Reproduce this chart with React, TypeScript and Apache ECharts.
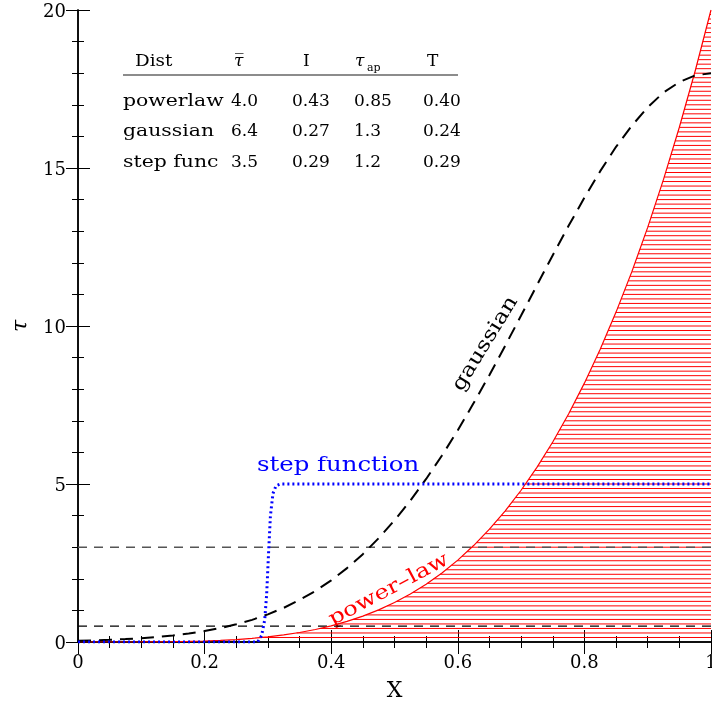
import React, { useEffect, useRef } from "react";
import * as echarts from "echarts";

// ---- data ----
const xs = [
  0, 0.025, 0.05, 0.075, 0.1, 0.125, 0.15, 0.175, 0.2, 0.225, 0.25, 0.275, 0.3, 0.325, 0.35, 0.375, 0.4, 0.425, 0.45, 0.475,
  0.5, 0.525, 0.55, 0.575, 0.6, 0.625, 0.65, 0.675, 0.7, 0.725, 0.75, 0.775, 0.8, 0.825, 0.85, 0.875, 0.9, 0.925, 0.95, 0.975, 1,
];
const powerLaw = [
  0, 0, 0, 0, 0.002, 0.005, 0.01, 0.019, 0.032, 0.051, 0.078, 0.114, 0.162, 0.223, 0.3, 0.396, 0.512, 0.652, 0.82, 1.018,
  1.25, 1.519, 1.83, 2.186, 2.592, 3.052, 3.57, 4.152, 4.802, 5.525, 6.328, 7.215, 8.192, 9.265, 10.44, 11.72, 13.12, 14.64, 16.29, 18.07, 20,
];
const gaussian = [
  0.038, 0.051, 0.069, 0.092, 0.121, 0.16, 0.208, 0.27, 0.346, 0.442, 0.559, 0.701, 0.875, 1.081, 1.33, 1.615, 1.95, 2.338, 2.78, 3.285,
  3.85, 4.47, 5.16, 5.9, 6.7, 7.56, 8.45, 9.38, 10.33, 11.29, 12.24, 13.17, 14.06, 14.9, 15.67, 16.34, 16.92, 17.39, 17.72, 17.93, 18.0,
];
const stepX = [0, 0.284, 0.29, 0.295, 0.298, 0.301, 0.304, 0.308, 0.313, 0.32, 1];
const stepY = [0, 0, 0.2, 0.7, 1.5, 2.8, 4.0, 4.7, 4.95, 5, 5];
const thresholds = [3, 0.5];

const tableHeader = ["Dist", "τ\u0305", "I", "τ", "T"];
const tableRows = [
  ["powerlaw", "4.0", "0.43", "0.85", "0.40"],
  ["gaussian", "6.4", "0.27", "1.3", "0.24"],
  ["step func", "3.5", "0.29", "1.2", "0.29"],
];

const SERIF = "'DejaVu Serif', serif";

function xAtPower(y: number): number {
  for (let i = 0; i < xs.length - 1; i++) {
    const a = powerLaw[i];
    const b = powerLaw[i + 1];
    if (b > a && y >= a && y <= b) return xs[i] + ((y - a) / (b - a)) * (xs[i + 1] - xs[i]);
  }
  return 1;
}

export default function App() {
  const ref = useRef<HTMLDivElement>(null);
  useEffect(() => {
    document.body.style.margin = "0";
    document.body.style.overflow = "hidden";
    document.documentElement.style.overflow = "hidden";
    const chart = echarts.init(ref.current!, null, { renderer: "svg", width: 712, height: 704 });

    const hatchLevels: number[][] = [];
    for (let k = 1; k * (1 / 7) < 20; k++) hatchLevels.push([1, k / 7]);

    const colX = [123, 231, 292, 354, 423];
    const headX = [135, 234, 303, 355, 427];
    const rowY = [100, 130, 161];
    const table: any[] = [];
    tableHeader.forEach((h, i) => {
      table.push({
        type: "text",
        x: headX[i],
        y: 60,
        scaleX: i === 0 ? 1.08 : 1,
        style: {
          text: h,
          font: (i === 1 || i === 3 ? "italic " : "") + "17px " + SERIF,
          fill: "#000",
          verticalAlign: "middle",
        },
      });
    });
    table.push({
      type: "text",
      x: 367,
      y: 67,
      style: { text: "ap", font: "11px " + SERIF, fill: "#000", verticalAlign: "middle" },
    });
    table.push({
      type: "line",
      shape: { x1: 123, y1: 75, x2: 458, y2: 75 },
      style: { stroke: "#666", lineWidth: 1.5 },
    });
    tableRows.forEach((row, r) => {
      row.forEach((c, i) => {
        table.push({
          type: "text",
          x: colX[i],
          y: rowY[r],
          scaleX: i === 0 ? 1.2 : 1,
          style: { text: c, font: "17px " + SERIF, fill: "#000", verticalAlign: "middle" },
        });
      });
    });

    const axisCommon = {
      min: 0,
      axisLine: { show: true, lineStyle: { color: "#000", width: 1.5 } },
      axisTick: { show: true, inside: true, length: 12, lineStyle: { color: "#000", width: 1 } },
      minorTick: { show: true, length: 6, lineStyle: { color: "#000", width: 1 } },
      splitLine: { show: false },
    };

    chart.setOption({
      animation: false,
      grid: { left: 78, top: 10, right: 1, bottom: 62, containLabel: false, outerBoundsMode: "none" },
      xAxis: [
        {
          ...axisCommon,
          type: "value",
          position: "bottom",
          max: 1,
          interval: 0.2,
          minorTick: { ...axisCommon.minorTick, splitNumber: 4 },
          axisLabel: {
            fontFamily: SERIF,
            fontSize: 18,
            color: "#000",
            margin: 10,
            formatter: (v: number) => (v === 0 ? "0" : v === 1 ? "1" : v.toFixed(1)),
          },
          name: "X",
          nameLocation: "middle",
          nameGap: 36,
          nameTextStyle: { fontFamily: SERIF, fontSize: 22, color: "#000" },
        },
        {
          ...axisCommon,
          type: "value",
          position: "top",
          max: 1,
          interval: 0.2,
          minorTick: { ...axisCommon.minorTick, splitNumber: 4 },
          axisLabel: { show: false },
        },
      ],
      yAxis: [
        {
          ...axisCommon,
          type: "value",
          position: "left",
          max: 20,
          interval: 5,
          minorTick: { ...axisCommon.minorTick, splitNumber: 5 },
          axisLabel: { fontFamily: SERIF, fontSize: 18, color: "#000", margin: 12 },
          name: "τ",
          nameLocation: "middle",
          nameGap: 48,
          nameRotate: 90,
          nameTextStyle: { fontFamily: SERIF, fontSize: 22, fontStyle: "italic", color: "#000" },
        },
        {
          ...axisCommon,
          type: "value",
          position: "right",
          max: 20,
          interval: 5,
          minorTick: { ...axisCommon.minorTick, splitNumber: 5 },
          axisLabel: { show: false },
        },
      ],
      series: [
        {
          type: "custom",
          name: "hatch",
          clip: true,
          z: 1,
          data: hatchLevels,
          renderItem: (params: any, api: any) => {
            const y = api.value(1);
            const x0 = xAtPower(y);
            const p0 = api.coord([x0, y]);
            const p1 = api.coord([1, y]);
            return {
              type: "line",
              shape: { x1: p0[0], y1: p0[1], x2: p1[0], y2: p1[1] },
              style: { stroke: "#ff0000", lineWidth: 1 },
            };
          },
        },
        ...thresholds.map((t, i) => ({
          type: "line",
          name: "thr" + i,
          z: 2,
          symbol: "none",
          data: [
            [0, t],
            [1, t],
          ],
          lineStyle: { color: i === 0 ? "#555" : "#000", width: i === 0 ? 1.5 : 1.3, type: [9, 7] },
        })),
        {
          type: "line",
          name: "power-law",
          z: 3,
          symbol: "none",
          data: xs.map((x, i) => [x, powerLaw[i]]),
          lineStyle: { color: "#ff0000", width: 1.2 },
        },
        {
          type: "line",
          name: "gaussian",
          z: 4,
          symbol: "none",
          data: xs.map((x, i) => [x, gaussian[i]]),
          lineStyle: { color: "#000", width: 2, type: [13, 8] },
        },
        {
          type: "line",
          name: "step",
          z: 5,
          symbol: "none",
          data: stepX.map((x, i) => [x, stepY[i]]),
          lineStyle: { color: "#0000ff", width: 3, type: [2, 3] },
        },
      ],
      graphic: [
        ...table,
        {
          type: "text",
          x: 338,
          y: 464,
          scaleX: 1.22,
          style: { text: "step function", font: "20px " + SERIF, fill: "#0000ff", align: "center", verticalAlign: "middle" },
        },
        {
          type: "text",
          x: 484,
          y: 343,
          scaleX: 1.2,
          rotation: (58.5 * Math.PI) / 180,
          style: { text: "gaussian", font: "20px " + SERIF, fill: "#000", align: "center", verticalAlign: "middle" },
        },
        {
          type: "text",
          x: 388,
          y: 588,
          scaleX: 1.22,
          rotation: (28 * Math.PI) / 180,
          style: { text: "power–law", font: "20px " + SERIF, fill: "#ff0000", align: "center", verticalAlign: "middle" },
        },
      ],
    });
    return () => chart.dispose();
  }, []);
  return (
    <div
      ref={ref}
      style={{ position: "fixed", left: 0, top: 0, width: 712, height: 704, overflow: "hidden" }}
    />
  );
}
